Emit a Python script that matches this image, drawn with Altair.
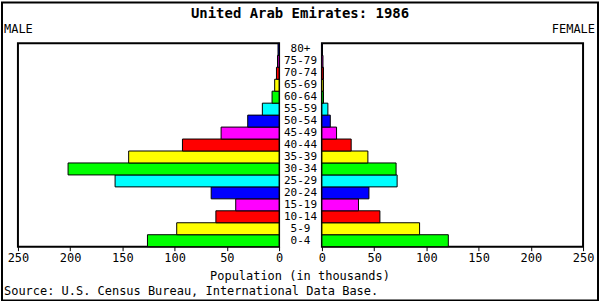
import altair as alt
import pandas as pd

ages = ["0-4", "5-9", "10-14", "15-19", "20-24", "25-29", "30-34", "35-39",
        "40-44", "45-49", "50-54", "55-59", "60-64", "65-69", "70-74", "75-79", "80+"]
male = [126, 98, 60.5, 41.5, 65, 157, 202, 144, 92.5, 55.5, 30, 16, 6.7, 4.2, 2.5, 1.5, 1]
female = [121, 93.5, 55.5, 35, 45, 72, 71, 44, 28, 14, 8, 5.7, 1.5, 1.5, 1.5, 1, 0.5]
palette = ["#00ff00", "#ffff00", "#ff0000", "#ff00ff", "#0000ff", "#00ffff"]
ticks = [0, 50, 100, 150, 200, 250]

title = "United Arab Emirates: 1986"
x_title = "Population (in thousands)"
source = "Source: U.S. Census Bureau, International Data Base."

df = pd.DataFrame({"age": ages, "male": male, "female": female})
order = ages[::-1]
colors = [palette[i % len(palette)] for i in range(len(ages))]

FONT = "DejaVu Sans Mono"
W, H, MID = 262, 204, 43

yenc = alt.Y("age:N", sort=order, axis=None,
             scale=alt.Scale(paddingInner=0, paddingOuter=0))
cenc = alt.Color("age:N", scale=alt.Scale(domain=ages, range=colors), legend=None)
axis = alt.Axis(values=ticks, title=None, grid=False, domain=False, tickSize=4,
                labelFont=FONT, labelFontSize=12, labelColor="black",
                tickColor="black", labelPadding=2, labelFlush=False)

left_bars = alt.Chart(df).mark_bar(stroke="black", strokeWidth=1).encode(
    x=alt.X("male:Q", scale=alt.Scale(domain=[0, 250], reverse=True), axis=axis),
    y=yenc, color=cenc)

def txt(s, x, y, **kw):
    return alt.Chart(pd.DataFrame({"t": [s]})).mark_text(
        font=FONT, color="black", baseline="alphabetic", **kw).encode(
        text="t:N", x=alt.value(x), y=alt.value(y))

border = alt.Chart(pd.DataFrame({"t": [0]})).mark_rect(
    fill=None, stroke="black", strokeWidth=2).encode(
    x=alt.value(-16), x2=alt.value(582), y=alt.value(-41), y2=alt.value(258))

left = alt.layer(
    left_bars,
    txt(title, 283, -25, fontSize=14, fontWeight="bold", align="center"),
    txt("MALE", -14, -10, fontSize=12, align="left"),
    txt(x_title, 283, 237, fontSize=12, align="center"),
    txt(source, -14, 252, fontSize=12, align="left"),
    border,
).properties(width=W, height=H)

mid = alt.Chart(df).mark_text(font=FONT, fontSize=11, color="black",
                              baseline="middle", align="center").encode(
    y=yenc, x=alt.value(MID / 2), text="age:N"
).properties(width=MID, height=H, view=alt.ViewConfig(stroke=None))

right_bars = alt.Chart(df).mark_bar(stroke="black", strokeWidth=1).encode(
    x=alt.X("female:Q", scale=alt.Scale(domain=[0, 250]), axis=axis),
    y=yenc, color=cenc)

right = alt.layer(
    right_bars,
    txt("FEMALE", W + 12, -10, fontSize=12, align="right"),
).properties(width=W, height=H)

chart = alt.hconcat(left, mid, right, spacing=0, bounds="flush").properties(
    padding=0,
    background="white",
).configure_view(stroke="black", strokeWidth=2).configure_concat(spacing=0)

chart.save("out.html", embed_options={"renderer": "svg", "actions": False})
